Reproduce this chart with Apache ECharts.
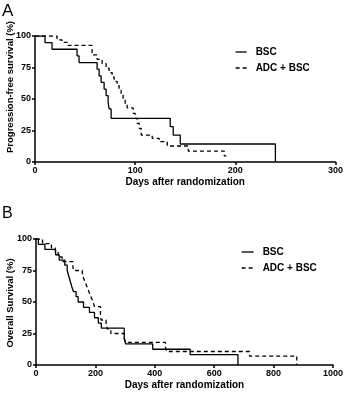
<!DOCTYPE html>
<html>
<head>
<meta charset="utf-8">
<script src="https://cdn.jsdelivr.net/npm/echarts@6/dist/echarts.min.js"></script>
<style>
  html, body { margin: 0; padding: 0; background: #fff; }
  #chart { width: 346px; height: 396px; }
</style>
</head>
<body>
<div id="chart"></div>
<script>
// panel A - progression-free survival
const pfsBscDays = [0, 10, 17, 42, 44, 62, 64, 66, 69, 71, 73, 74, 76, 135, 138, 145, 240]
const pfsBscPct = [100, 94.7, 89.5, 84.2, 78.9, 73.7, 68.4, 63.2, 57.9, 52.6, 47.4, 42.1, 34.7, 28, 21.4, 14.3, 0]
const pfsAdcDays = [0, 22, 27, 33, 57, 62, 67, 71, 74, 77, 79, 82, 84, 86, 88, 90, 92, 98, 100, 102, 104, 106, 117, 124, 132, 153, 189, 191]
const pfsAdcPct = [100, 97, 95, 92.5, 85, 81.5, 78, 74.5, 71, 67.5, 64, 60.5, 57, 53.5, 50, 46.5, 43, 38.6, 34.7, 30.7, 26.7, 21.4, 18.8, 16.1, 12.7, 8.7, 4.8, 4.8]

// panel B - overall survival
const osBscDays = [0, 8, 30, 66, 78, 97, 105, 110, 115, 120, 126, 135, 142, 160, 180, 197, 210, 220, 297, 302, 393, 519, 680]
const osBscPct = [100, 95.8, 91.7, 87.5, 83.3, 79.2, 75, 70.8, 66.7, 62.5, 58.3, 54.2, 50, 45.8, 41.7, 37.5, 33.3, 29.2, 20.8, 16.7, 12.5, 8.3, 0]
const osAdcDays = [0, 22, 52, 65, 75, 88, 124, 126, 156, 162, 168, 174, 180, 186, 192, 197, 217, 219, 236, 240, 252, 297, 302, 436, 440, 719, 878]
const osAdcPct = [100, 96.4, 92.9, 89.3, 85.7, 82.1, 78.6, 75, 71.4, 67.9, 64.3, 60.7, 57.1, 53.6, 50, 46.4, 39.3, 35.7, 32.1, 28.6, 25, 21.4, 17.9, 14.3, 10.7, 7.1, 0]

const yTicks = [0, 25, 50, 75, 100]
const seriesNames = ['BSC', 'ADC + BSC']

const font = 'Liberation Sans, Arial, sans-serif'
const toPairs = (xs, ys) => xs.map((d, i) => [d, ys[i]])

const axisCommon = {
    axisLine: { lineStyle: { color: '#000', width: 1.5 } },
    axisTick: { lineStyle: { color: '#000', width: 1.5 }, length: 3 },
    axisLabel: { color: '#000', fontFamily: font, fontWeight: 'bold', fontSize: 9, margin: 4, formatter: v => String(v) },
    splitLine: { show: false }
}

const xAxisFor = (gridIndex, max, interval) => ({
    ...axisCommon,
    type: 'value',
    gridIndex,
    min: 0,
    max,
    interval,
    name: 'Days after randomization',
    nameLocation: 'middle',
    nameGap: 15,
    nameTextStyle: { color: '#000', fontFamily: font, fontWeight: 'bold', fontSize: 10 }
})

const yAxisFor = gridIndex => ({
    ...axisCommon,
    type: 'value',
    gridIndex,
    min: yTicks[0],
    max: yTicks[yTicks.length - 1],
    interval: yTicks[1] - yTicks[0]
})

const lineFor = (name, gridIndex, days, pct, dashed) => ({
    name,
    type: 'line',
    xAxisIndex: gridIndex,
    yAxisIndex: gridIndex,
    step: 'end',
    symbol: 'none',
    color: '#000',
    data: toPairs(days, pct),
    lineStyle: { color: '#000', width: 1.3, type: dashed ? [4, 3] : 'solid' }
})

// legend: line only, no marker dot
const legendFor = (left, top, width) => ({
    data: seriesNames,
    orient: 'vertical',
    left,
    top,
    itemWidth: width,
    itemHeight: 8,
    itemGap: 6,
    itemStyle: { opacity: 0 },
    lineStyle: { width: 1.3 },
    textStyle: { color: '#000', fontFamily: font, fontWeight: 'bold', fontSize: 10, padding: [0, 0, 0, 4] }
})

const chart = echarts.init(document.getElementById('chart'))
chart.setOption({
    animation: false,
    backgroundColor: '#fff',
    grid: [
        { left: 35, top: 36, width: 301, height: 126 },
        { left: 36, top: 239, width: 300, height: 126 }
    ],
    xAxis: [xAxisFor(0, 300, 100), xAxisFor(1, 1000, 200)],
    yAxis: [yAxisFor(0), yAxisFor(1)],
    legend: [legendFor(230, 42, 11), legendFor(236, 242, 12)],
    series: [
        lineFor('BSC', 0, pfsBscDays, pfsBscPct, false),
        lineFor('ADC + BSC', 0, pfsAdcDays, pfsAdcPct, true),
        lineFor('BSC', 1, osBscDays, osBscPct, false),
        lineFor('ADC + BSC', 1, osAdcDays, osAdcPct, true)
    ],
    graphic: [
        { type: 'text', left: 2, top: 3, style: { text: 'A', font: '17px ' + font, fill: '#000' } },
        { type: 'text', left: 2, top: 206, style: { text: 'B', font: '16px ' + font, fill: '#000' } },
        {
            type: 'text', x: 10, y: 87, rotation: Math.PI / 2,
            style: { text: 'Progression-free survival (%)', font: 'bold 9.5px ' + font, fill: '#000', align: 'center', verticalAlign: 'middle' }
        },
        {
            type: 'text', x: 10, y: 303, rotation: Math.PI / 2,
            style: { text: 'Overall Survival (%)', font: 'bold 9.5px ' + font, fill: '#000', align: 'center', verticalAlign: 'middle' }
        }
    ]
})
</script>
</body>
</html>
